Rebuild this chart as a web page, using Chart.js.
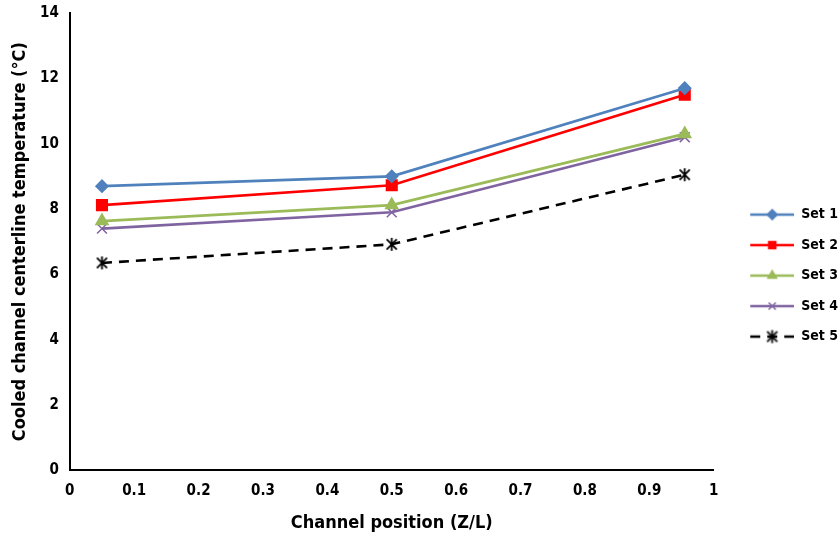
<!DOCTYPE html>
<html>
<head>
<meta charset="utf-8">
<script src="https://cdn.jsdelivr.net/npm/chart.js@4/dist/chart.umd.min.js"></script>
<style>
  html, body { margin: 0; padding: 0; background: #fff; }
  #wrap { width: 839px; height: 536px; }
</style>
</head>
<body>
<div id="wrap"><canvas id="myChart"></canvas></div>
<script>
  const positions = [0.05, 0.5, 0.955];

  const set1 = [8.7, 9.0, 11.7];
  const set2 = [8.12, 8.73, 11.5];
  const set3 = [7.63, 8.12, 10.3];
  const set4 = [7.4, 7.9, 10.2];
  const set5 = [6.35, 6.92, 9.05];

  const xTicks = [0, 0.1, 0.2, 0.3, 0.4, 0.5, 0.6, 0.7, 0.8, 0.9, 1];
  const yTicks = [0, 2, 4, 6, 8, 10, 12, 14];

  const font = "'DejaVu Sans Condensed', 'Liberation Sans Narrow', 'Open Sans', sans-serif";

  function pts(vals) {
    return vals.map((v, i) => ({ x: positions[i], y: v }));
  }

  // asterisk marker: vertical bar plus an X
  function asterisk(size) {
    const c = document.createElement('canvas');
    c.width = size; c.height = size;
    const ctx = c.getContext('2d');
    const m = size / 2, r = size / 2 - 1;
    const d = r * 0.78;
    ctx.strokeStyle = '#000';
    ctx.lineWidth = 1.8;
    ctx.beginPath();
    ctx.moveTo(m, m - r); ctx.lineTo(m, m + r);
    ctx.moveTo(m - d, m - d); ctx.lineTo(m + d, m + d);
    ctx.moveTo(m + d, m - d); ctx.lineTo(m - d, m + d);
    ctx.stroke();
    return c;
  }
  const starMark = asterisk(15);

  // legend swatch: blank lead-in, then a short line with the marker on it
  const lead = 20;
  const swLen = 44;
  function swatch(color, style, dash) {
    const c = document.createElement('canvas');
    c.width = lead + swLen; c.height = 16;
    const ctx = c.getContext('2d');
    const mid = lead + swLen / 2;
    ctx.strokeStyle = color;
    ctx.fillStyle = color;
    ctx.lineWidth = 2.5;
    ctx.setLineDash(dash || []);
    ctx.beginPath();
    ctx.moveTo(lead, 8); ctx.lineTo(lead + swLen, 8);
    ctx.stroke();
    ctx.setLineDash([]);
    if (typeof style === 'string') {
      ctx.lineWidth = 1.5;
      Chart.helpers.drawPoint(ctx, { pointStyle: style, radius: 5, rotation: 0, borderWidth: 1.5 }, mid, 8);
    } else {
      ctx.drawImage(style, mid - style.width / 2, 8 - style.height / 2);
    }
    return c;
  }

  const series = [
    { label: 'Set 1', values: set1, color: '#4F81BD', style: 'rectRot', radius: 6 },
    { label: 'Set 2', values: set2, color: '#FF0000', style: 'rect', radius: 7.5 },
    { label: 'Set 3', values: set3, color: '#9BBB59', style: 'triangle', radius: 7 },
    { label: 'Set 4', values: set4, color: '#8064A2', style: 'crossRot', radius: 7 },
    { label: 'Set 5', values: set5, color: '#000000', style: starMark, radius: 7, dash: [10, 7] }
  ];

  const data = {
    datasets: series.map(s => ({
      label: s.label,
      data: pts(s.values),
      borderColor: s.color,
      backgroundColor: s.color,
      borderWidth: 2.6,
      borderDash: s.dash || [],
      pointStyle: s.style,
      pointRadius: s.radius,
      pointBorderWidth: 1.5,
      pointBorderColor: s.color,
      pointBackgroundColor: s.color,
      tension: 0
    }))
  };

  const config = {
    type: 'line',
    data: data,
    options: {
      responsive: true,
      maintainAspectRatio: false,
      animation: false,
      layout: { padding: { left: 11, right: -9, top: 13, bottom: 2 } },
      plugins: {
        tooltip: { enabled: false },
        legend: {
          position: 'right',
          align: 'center',
          title: { display: true, text: ' ', font: { size: 1 }, padding: { top: 3, bottom: 0 } },
          labels: {
            usePointStyle: true,
            pointStyleWidth: lead + swLen,
            boxHeight: 16,
            padding: 16.5,
            color: '#000',
            font: { family: font, size: 14, weight: 'bold' },
            generateLabels: chart => series.map((s, i) => ({
              text: s.label,
              datasetIndex: i,
              pointStyle: swatch(s.color, s.style, s.dash),
              fillStyle: s.color,
              strokeStyle: s.color,
              lineWidth: 0,
              fontColor: '#000',
              hidden: false
            }))
          }
        }
      },
      scales: {
        x: {
          type: 'linear',
          min: 0,
          max: 1,
          afterBuildTicks: axis => { axis.ticks = xTicks.map(v => ({ value: v })); },
          grid: { display: false, drawTicks: false },
          border: { color: '#000', width: 2 },
          ticks: {
            color: '#000',
            padding: 12,
            maxRotation: 0,
            font: { family: font, size: 15, weight: 'bold' },
            callback: v => String(v)
          },
          title: {
            display: true,
            text: 'Channel position (Z/L)',
            color: '#000',
            padding: { top: 0, bottom: 0 },
            font: { family: font, size: 18, weight: 'bold' }
          }
        },
        y: {
          min: 0,
          max: 14,
          afterBuildTicks: axis => { axis.ticks = yTicks.map(v => ({ value: v })); },
          afterFit: axis => { axis.paddingTop = 0; },
          grid: { display: false, drawTicks: false },
          border: { color: '#000', width: 2 },
          ticks: {
            color: '#000',
            padding: 11,
            font: { family: font, size: 15, weight: 'bold' }
          },
          title: {
            display: true,
            text: 'Cooled channel centerline temperature (°C)',
            color: '#000',
            padding: { top: 0, bottom: 0 },
            font: { family: font, size: 18, weight: 'bold', lineHeight: 1 }
          }
        }
      }
    }
  };

  const myChart = new Chart(document.getElementById('myChart'), config);
</script>
</body>
</html>
